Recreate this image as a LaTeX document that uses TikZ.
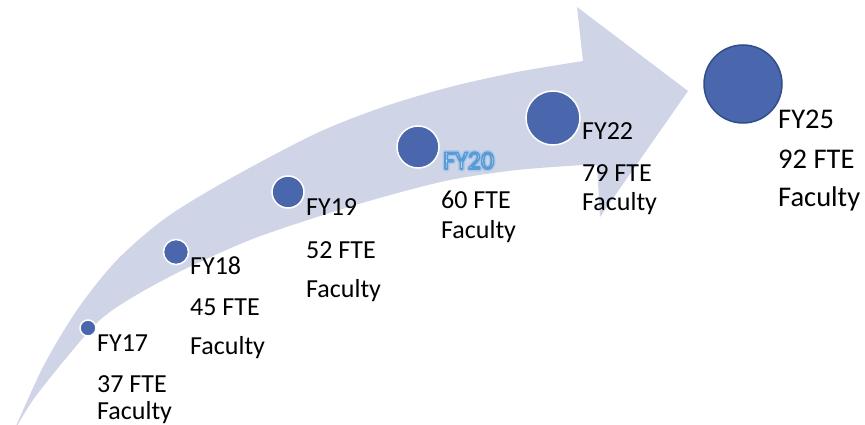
\documentclass[tikz,border=0pt]{standalone}
\usepackage{fontspec}
\setmainfont{Carlito}
\usetikzlibrary{positioning}

\definecolor{bandcol}{HTML}{CFD5E7}
\definecolor{dotcol}{HTML}{4A66AC}
\definecolor{rimcol}{HTML}{2F4E8C}
\definecolor{artfill}{HTML}{EEF3FA}

% word art: a soft glow, then an outlined light word
\newcommand{\artword}[1]{%
  \rlap{\special{pdf:literal direct 1 Tr 4.5 w 1 j 0.663 0.784 0.918 RG}#1\special{pdf:literal direct 0 Tr}}%
  \textcolor{artfill}{\special{pdf:literal direct 2 Tr 1.6 w 1 j 0.357 0.608 0.835 RG}#1\special{pdf:literal direct 0 Tr}}}

\tikzset{
  dot/.style={circle, fill=dotcol, draw=white, line width=1.5pt, inner sep=0pt},
  yr/.style={anchor=base west, inner sep=0pt, font=\fontsize{26}{30}\selectfont},
  big/.style={yr, font=\fontsize{28.5}{33}\selectfont}
}

\begin{document}
\begin{tikzpicture}[x=1pt,y=-1pt]
\useasboundingbox (0,0) rectangle (865,425);

		%the curved arrow
		\fill[bandcol] plot[smooth] coordinates {(13,433) (43,367) (77,310) (117,260) (167,217) (233,177) (317,133) (383,107) (450,87) (517,72) (583,61)}
			-- (577,7) -- (688,91) -- (600,217) -- (597,165)
			-- plot[smooth] coordinates {(583,165) (517,170) (450,180) (383,197) (317,217) (250,240) (183,270) (133,297) (100,320) (67,357) (33,400) (13,433)}
			-- cycle;

		%the years as dots
		\node[dot, minimum size=16pt] (d17) at (88,328) {};
		\node[dot, minimum size=25pt] (d18) at (176,252) {};
		\node[dot, minimum size=32pt] (d19) at (288,192) {};
		\node[dot, minimum size=42pt] (d20) at (418,147) {};
		\node[dot, minimum size=54pt] (d22) at (553,118) {};
		\node[dot, draw=rimcol, minimum size=78pt] (d25) at (743,84) {};

		% FY17
		\node[yr] (fy17) at (97,351) {FY17};
		\node[yr] (n17) at (97,392) {37 FTE};
		\node[yr] (f17) at (97,419) {Faculty};

		% FY18
		\node[yr] (fy18) at (190,274) {FY18};
		\node[yr] (n18) at (190,315) {45 FTE};
		\node[yr] (f18) at (190,354) {Faculty};

		% FY19
		\node[yr] (fy19) at (306,215) {FY19};
		\node[yr] (n19) at (306,258) {52 FTE};
		\node[yr] (f19) at (306,297) {Faculty};

		% FY20, the word art one
		\node[yr] (fy20) at (443,169) {\artword{FY20}};
		\node[yr] (n20) at (441,208) {60 FTE};
		\node[yr] (f20) at (441,238) {Faculty};

		% FY22
		\node[yr] (fy22) at (582,140) {FY22};
		\node[yr] (n22) at (582,182) {79 FTE};
		\node[yr] (f22) at (582,210) {Faculty};

		% FY25
		\node[big] (fy25) at (778,129) {FY25};
		\node[big] (n25) at (778,168) {92 FTE};
		\node[big] (f25) at (778,207) {Faculty};

\end{tikzpicture}
\end{document}
